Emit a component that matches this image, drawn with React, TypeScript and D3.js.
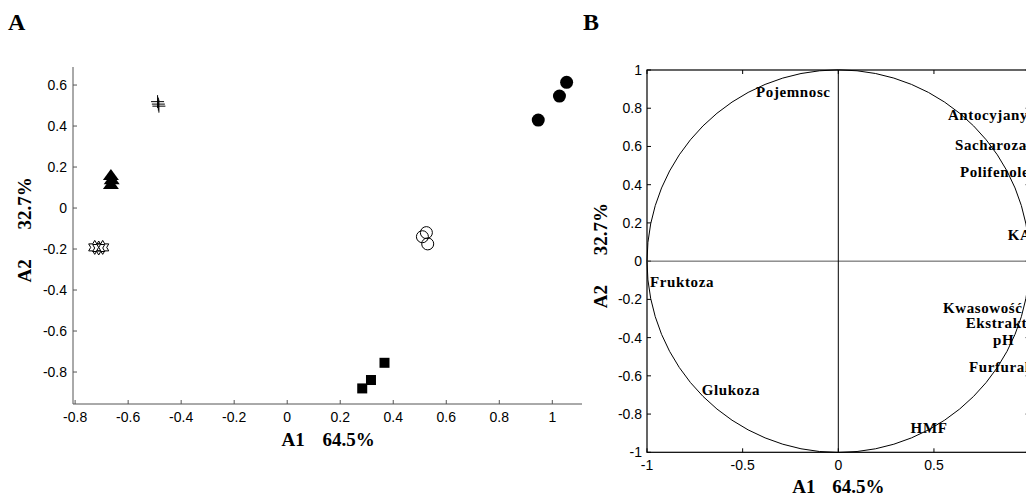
import React from 'react';
import * as d3 from 'd3';

// Panel A: PCA scores, one array per sample group [A1, A2]
const plusPts = [[-0.489, 0.519], [-0.486, 0.507], [-0.484, 0.497]];
const trianglePts = [[-0.665, 0.161], [-0.662, 0.141], [-0.665, 0.117]];
const hexagramPts = [[-0.726, -0.192], [-0.711, -0.195], [-0.696, -0.192]];
const filledCirclePts = [[0.947, 0.429], [1.027, 0.546], [1.054, 0.613]];
const openCirclePts = [[0.51, -0.14], [0.525, -0.12], [0.53, -0.175]];
const squarePts = [[0.283, -0.88], [0.316, -0.839], [0.367, -0.755]];

const xTicksA = [-0.8, -0.6, -0.4, -0.2, 0, 0.2, 0.4, 0.6, 0.8, 1];
const yTicksA = [-0.8, -0.6, -0.4, -0.2, 0, 0.2, 0.4, 0.6];

// Panel B: correlation circle, variable loadings
const varNames = ['Pojemnosc', 'Antocyjany', 'Sacharoza', 'Polifenole', 'KA', 'Kwasowość', 'Ekstrakt', 'pH', 'Furfural', 'HMF', 'Fruktoza', 'Glukoza'];
const varA1 = [-0.43, 0.573, 0.61, 0.636, 0.886, 0.547, 0.666, 0.809, 0.683, 0.378, -0.984, -0.714];
const varA2 = [0.885, 0.765, 0.608, 0.466, 0.137, -0.245, -0.322, -0.412, -0.554, -0.873, -0.109, -0.674];

const xTicksB = [-1, -0.5, 0, 0.5, 1];
const yTicksB = [-1, -0.8, -0.6, -0.4, -0.2, 0, 0.2, 0.4, 0.6, 0.8, 1];

const fmt = (v: number) => String(+v.toFixed(1));
const serif = '"Liberation Serif", "Times New Roman", serif';
const sans = '"Liberation Sans", Arial, sans-serif';

export default function App() {
  const W = 1026, H = 495;

  // panel A scales
  const xA = d3.scaleLinear().domain([-0.808, 1.112]).range([73, 582]);
  const yA = d3.scaleLinear().domain([-0.956, 0.688]).range([404, 67]);
  // panel B scales
  const xB = d3.scaleLinear().domain([-1, 1]).range([647, 1029.6]);
  const yB = d3.scaleLinear().domain([-1, 1]).range([452.3, 70]);

  const axisA = '#555';
  const tk = 4;

  const hexPath = (r: number) => {
    const pts = d3.range(12).map(i => {
      const a = (i * Math.PI) / 6 - Math.PI / 2;
      const rr = i % 2 === 0 ? r : r / Math.sqrt(3);
      return [rr * Math.cos(a), rr * Math.sin(a)] as [number, number];
    });
    return 'M' + pts.map(p => p.join(',')).join('L') + 'Z';
  };

  const cxA = (xA(-0.808) + xA(1.112)) / 2;
  const cyA = (yA(-0.956) + yA(0.688)) / 2;
  const cxB = xB(0);
  const cyB = yB(0);

  return (
    <svg width={W} height={H} style={{ position: 'absolute', left: 0, top: 0, background: '#fff' }}>
      {/* panel letters */}
      <text x={8} y={30} fontFamily={serif} fontWeight="bold" fontSize={24}>A</text>
      <text x={583} y={30} fontFamily={serif} fontWeight="bold" fontSize={24}>B</text>

      {/* ===== Panel A ===== */}
      <g>
        <line x1={xA.range()[0]} x2={xA.range()[1]} y1={yA.range()[0]} y2={yA.range()[0]} stroke={axisA} />
        <line x1={xA.range()[0]} x2={xA.range()[0]} y1={yA.range()[0]} y2={yA.range()[1]} stroke={axisA} />
        {xTicksA.map(v => (
          <g key={'xa' + v}>
            <line x1={xA(v)} x2={xA(v)} y1={yA.range()[0]} y2={yA.range()[0] - tk} stroke={axisA} />
            <text x={xA(v)} y={yA.range()[0] + 18} textAnchor="middle" fontFamily={sans} fontSize={14}>{fmt(v)}</text>
          </g>
        ))}
        {yTicksA.map(v => (
          <g key={'ya' + v}>
            <line x1={xA.range()[0]} x2={xA.range()[0] + tk} y1={yA(v)} y2={yA(v)} stroke={axisA} />
            <text x={xA.range()[0] - 6} y={yA(v) + 5} textAnchor="end" fontFamily={sans} fontSize={14}>{fmt(v)}</text>
          </g>
        ))}
        <text y={446} fontFamily={serif} fontWeight="bold" fontSize={19}>
          <tspan x={cxA - 46}>A1</tspan>
          <tspan x={cxA - 5}>64.5%</tspan>
        </text>
        <g transform={`translate(31,${cyA}) rotate(-90)`}>
          <text fontFamily={serif} fontWeight="bold" fontSize={19}>
            <tspan x={-47}>A2</tspan>
            <tspan x={6}>32.7%</tspan>
          </text>
        </g>

        {plusPts.map((d, i) => (
          <path key={'p' + i} d={`M${xA(d[0]) - 6.5},${yA(d[1])}h13M${xA(d[0])},${yA(d[1]) - 6.5}v13`} stroke="#000" strokeWidth={1} fill="none" />
        ))}
        {trianglePts.map((d, i) => (
          <path key={'t' + i} transform={`translate(${xA(d[0])},${yA(d[1])})`} d="M0,-6L8,5L-8,5Z" fill="#000" />
        ))}
        {hexagramPts.map((d, i) => (
          <path key={'h' + i} transform={`translate(${xA(d[0])},${yA(d[1])})`} d={hexPath(7)} fill="none" stroke="#000" strokeWidth={1} />
        ))}
        {filledCirclePts.map((d, i) => (
          <circle key={'fc' + i} cx={xA(d[0])} cy={yA(d[1])} r={6.5} fill="#000" />
        ))}
        {openCirclePts.map((d, i) => (
          <circle key={'oc' + i} cx={xA(d[0])} cy={yA(d[1])} r={6} fill="none" stroke="#000" strokeWidth={1} />
        ))}
        {squarePts.map((d, i) => (
          <rect key={'s' + i} x={xA(d[0]) - 5} y={yA(d[1]) - 5} width={10} height={10} fill="#000" />
        ))}
      </g>

      {/* ===== Panel B ===== */}
      <g>
        <rect x={xB(-1)} y={yB(1)} width={xB(1) - xB(-1)} height={yB(-1) - yB(1)} fill="none" stroke="#000" strokeWidth={1.2} />
        {xTicksB.map(v => (
          <g key={'xb' + v}>
            <line x1={xB(v)} x2={xB(v)} y1={yB(-1)} y2={yB(-1) - tk} stroke="#000" />
            <line x1={xB(v)} x2={xB(v)} y1={yB(1)} y2={yB(1) + tk} stroke="#000" />
            <text x={xB(v)} y={yB(-1) + 18} textAnchor="middle" fontFamily={sans} fontSize={14}>{fmt(v)}</text>
          </g>
        ))}
        {yTicksB.map(v => (
          <g key={'yb' + v}>
            <line x1={xB(-1)} x2={xB(-1) + tk} y1={yB(v)} y2={yB(v)} stroke="#000" />
            <line x1={xB(1)} x2={xB(1) - tk} y1={yB(v)} y2={yB(v)} stroke="#000" />
            <text x={xB(-1) - 5} y={yB(v) + 5} textAnchor="end" fontFamily={sans} fontSize={14}>{fmt(v)}</text>
          </g>
        ))}
        {/* crosshair */}
        <line x1={xB(-1)} x2={xB(1)} y1={cyB} y2={cyB} stroke="#555" />
        <line x1={cxB} x2={cxB} y1={yB(-1)} y2={yB(1)} stroke="#000" />
        {/* unit circle */}
        <circle cx={cxB} cy={cyB} r={xB(1) - xB(0)} fill="none" stroke="#000" strokeWidth={1} />

        {varNames.map((n, i) => (
          <text key={n} x={xB(varA1[i])} y={yB(varA2[i]) + 5} fontFamily={serif} fontWeight="bold" fontSize={15} letterSpacing={0.6}>{n}</text>
        ))}

        <text y={493} fontFamily={serif} fontWeight="bold" fontSize={19}>
          <tspan x={cxB - 46}>A1</tspan>
          <tspan x={cxB - 6}>64.5%</tspan>
        </text>
        <g transform={`translate(607,${cyB}) rotate(-90)`}>
          <text fontFamily={serif} fontWeight="bold" fontSize={19}>
            <tspan x={-47}>A2</tspan>
            <tspan x={6}>32.7%</tspan>
          </text>
        </g>
      </g>
    </svg>
  );
}
